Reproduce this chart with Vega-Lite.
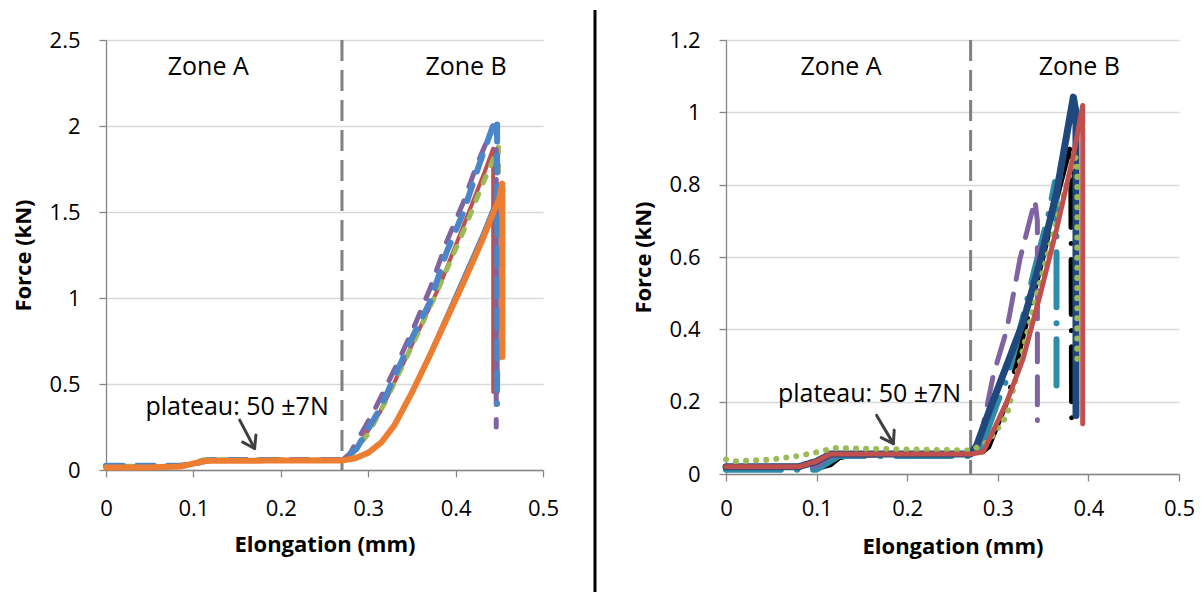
{
  "$schema": "https://vega.github.io/schema/vega-lite/v6.json",
  "padding": {"left": 12, "top": 8, "right": 0, "bottom": 0},
  "background": "white",
  "bounds": "flush",
  "spacing": 52,
  "config": {
    "view": {"stroke": null},
    "font": "Open Sans",
    "axis": {
      "labelFont": "Open Sans", "labelFontSize": 22, "labelColor": "#000000",
      "titleFont": "Open Sans", "titleFontSize": 22, "titleFontWeight": "bold", "titleColor": "#000000",
      "domainColor": "#868686", "domainWidth": 1.3, "tickColor": "#868686", "tickWidth": 1.3, "tickSize": 7,
      "gridColor": "#d9d9d9", "gridWidth": 1.3, "labelFlush": false, "labelOverlap": false
    },
    "axisX": {"grid": false, "labelPadding": 21, "titlePadding": 15},
    "axisY": {"grid": true, "labelPadding": 19, "titlePadding": 14}
  },
  "datasets": {
    "left": [
      {"s":"L1","x":0,"f":0.025},{"s":"L1","x":0.04,"f":0.022},{"s":"L1","x":0.085,"f":0.02},{"s":"L1","x":0.1,"f":0.028},{"s":"L1","x":0.11,"f":0.042},{"s":"L1","x":0.122,"f":0.052},{"s":"L1","x":0.2,"f":0.053},{"s":"L1","x":0.27,"f":0.055},{"s":"L1","x":0.285,"f":0.075},{"s":"L1","x":0.3,"f":0.11},{"s":"L1","x":0.315,"f":0.17},{"s":"L1","x":0.33,"f":0.27},{"s":"L1","x":0.35,"f":0.46},{"s":"L1","x":0.37,"f":0.68},{"s":"L1","x":0.39,"f":0.91},{"s":"L1","x":0.41,"f":1.14},{"s":"L1","x":0.43,"f":1.37},{"s":"L1","x":0.449,"f":1.61},{"s":"L1","x":0.449,"f":0.45},
      {"s":"L2","x":0,"f":0.02},{"s":"L2","x":0.085,"f":0.02},{"s":"L2","x":0.1,"f":0.035},{"s":"L2","x":0.11,"f":0.05},{"s":"L2","x":0.12,"f":0.056},{"s":"L2","x":0.27,"f":0.058},{"s":"L2","x":0.279,"f":0.085},{"s":"L2","x":0.29,"f":0.15},{"s":"L2","x":0.3135,"f":0.337},{"s":"L2","x":0.33,"f":0.51},{"s":"L2","x":0.3516,"f":0.744},{"s":"L2","x":0.382,"f":1.074},{"s":"L2","x":0.409,"f":1.42},{"s":"L2","x":0.4317,"f":1.713},{"s":"L2","x":0.443,"f":1.868},{"s":"L2","x":0.443,"f":0.453},
      {"s":"L3","x":0,"f":0.022},{"s":"L3","x":0.085,"f":0.022},{"s":"L3","x":0.1,"f":0.04},{"s":"L3","x":0.11,"f":0.058},{"s":"L3","x":0.12,"f":0.06},{"s":"L3","x":0.27,"f":0.058},{"s":"L3","x":0.28,"f":0.08},{"s":"L3","x":0.3,"f":0.21},{"s":"L3","x":0.32,"f":0.4},{"s":"L3","x":0.35,"f":0.72},{"s":"L3","x":0.38,"f":1.05},{"s":"L3","x":0.41,"f":1.4},{"s":"L3","x":0.43,"f":1.65},{"s":"L3","x":0.449,"f":1.878},{"s":"L3","x":0.449,"f":0.647},
      {"s":"L4","x":0,"f":0.02},{"s":"L4","x":0.085,"f":0.02},{"s":"L4","x":0.1,"f":0.035},{"s":"L4","x":0.11,"f":0.05},{"s":"L4","x":0.12,"f":0.055},{"s":"L4","x":0.27,"f":0.055},{"s":"L4","x":0.279,"f":0.095},{"s":"L4","x":0.306,"f":0.337},{"s":"L4","x":0.3325,"f":0.609},{"s":"L4","x":0.3516,"f":0.822},{"s":"L4","x":0.3707,"f":1.054},{"s":"L4","x":0.3897,"f":1.326},{"s":"L4","x":0.409,"f":1.558},{"s":"L4","x":0.424,"f":1.77},{"s":"L4","x":0.443,"f":2.0},{"s":"L4","x":0.4465,"f":1.98},{"s":"L4","x":0.4465,"f":0.25},
      {"s":"L5","x":0,"f":0.025},{"s":"L5","x":0.085,"f":0.025},{"s":"L5","x":0.1,"f":0.035},{"s":"L5","x":0.115,"f":0.055},{"s":"L5","x":0.12,"f":0.058},{"s":"L5","x":0.27,"f":0.058},{"s":"L5","x":0.2867,"f":0.124},{"s":"L5","x":0.3135,"f":0.356},{"s":"L5","x":0.3516,"f":0.783},{"s":"L5","x":0.3707,"f":0.977},{"s":"L5","x":0.3897,"f":1.267},{"s":"L5","x":0.409,"f":1.5},{"s":"L5","x":0.428,"f":1.79},{"s":"L5","x":0.4457,"f":2.042},{"s":"L5","x":0.4475,"f":2.02},{"s":"L5","x":0.4475,"f":0.385},
      {"s":"L6","x":0,"f":0.015},{"s":"L6","x":0.05,"f":0.015},{"s":"L6","x":0.085,"f":0.02},{"s":"L6","x":0.1,"f":0.038},{"s":"L6","x":0.115,"f":0.053},{"s":"L6","x":0.2,"f":0.055},{"s":"L6","x":0.27,"f":0.055},{"s":"L6","x":0.285,"f":0.068},{"s":"L6","x":0.3,"f":0.1},{"s":"L6","x":0.315,"f":0.16},{"s":"L6","x":0.33,"f":0.26},{"s":"L6","x":0.35,"f":0.45},{"s":"L6","x":0.37,"f":0.66},{"s":"L6","x":0.39,"f":0.88},{"s":"L6","x":0.41,"f":1.1},{"s":"L6","x":0.43,"f":1.33},{"s":"L6","x":0.45,"f":1.58},{"s":"L6","x":0.4535,"f":1.665},{"s":"L6","x":0.4535,"f":0.657}
    ],
    "right": [
      {"s":"R1","x":0,"f":0.015},{"s":"R1","x":0.1,"f":0.015},{"s":"R1","x":0.115,"f":0.025},{"s":"R1","x":0.125,"f":0.045},{"s":"R1","x":0.135,"f":0.05},{"s":"R1","x":0.27,"f":0.05},{"s":"R1","x":0.28,"f":0.054},{"s":"R1","x":0.29,"f":0.075},{"s":"R1","x":0.31,"f":0.199},{"s":"R1","x":0.3337,"f":0.439},{"s":"R1","x":0.35,"f":0.6},{"s":"R1","x":0.365,"f":0.76},{"s":"R1","x":0.3805,"f":0.91},{"s":"R1","x":0.3815,"f":0.12},
      {"s":"R2","x":0,"f":0.012},{"s":"R2","x":0.1,"f":0.012},{"s":"R2","x":0.115,"f":0.035},{"s":"R2","x":0.125,"f":0.05},{"s":"R2","x":0.27,"f":0.05},{"s":"R2","x":0.28,"f":0.06},{"s":"R2","x":0.284,"f":0.088},{"s":"R2","x":0.3,"f":0.2},{"s":"R2","x":0.3116,"f":0.273},{"s":"R2","x":0.3245,"f":0.4},{"s":"R2","x":0.34,"f":0.56},{"s":"R2","x":0.3557,"f":0.715},{"s":"R2","x":0.363,"f":0.807},{"s":"R2","x":0.3648,"f":0.8},{"s":"R2","x":0.3648,"f":0.245},
      {"s":"R3","x":0,"f":0.02},{"s":"R3","x":0.1,"f":0.022},{"s":"R3","x":0.115,"f":0.05},{"s":"R3","x":0.27,"f":0.055},{"s":"R3","x":0.28,"f":0.088},{"s":"R3","x":0.295,"f":0.273},{"s":"R3","x":0.31,"f":0.4},{"s":"R3","x":0.3245,"f":0.595},{"s":"R3","x":0.341,"f":0.757},{"s":"R3","x":0.3437,"f":0.7},{"s":"R3","x":0.3437,"f":0.148},
      {"s":"R4","x":0,"f":0.02},{"s":"R4","x":0.08,"f":0.02},{"s":"R4","x":0.1,"f":0.035},{"s":"R4","x":0.115,"f":0.055},{"s":"R4","x":0.27,"f":0.055},{"s":"R4","x":0.2767,"f":0.079},{"s":"R4","x":0.2914,"f":0.18},{"s":"R4","x":0.3098,"f":0.3},{"s":"R4","x":0.328,"f":0.42},{"s":"R4","x":0.3466,"f":0.586},{"s":"R4","x":0.365,"f":0.78},{"s":"R4","x":0.3834,"f":1.042},{"s":"R4","x":0.3863,"f":1.0},{"s":"R4","x":0.3863,"f":0.162},
      {"s":"R5","x":0,"f":0.04},{"s":"R5","x":0.01,"f":0.035},{"s":"R5","x":0.05,"f":0.04},{"s":"R5","x":0.08,"f":0.05},{"s":"R5","x":0.1,"f":0.06},{"s":"R5","x":0.12,"f":0.072},{"s":"R5","x":0.15,"f":0.07},{"s":"R5","x":0.2,"f":0.068},{"s":"R5","x":0.27,"f":0.065},{"s":"R5","x":0.29,"f":0.09},{"s":"R5","x":0.31,"f":0.162},{"s":"R5","x":0.328,"f":0.346},{"s":"R5","x":0.3466,"f":0.53},{"s":"R5","x":0.361,"f":0.66},{"s":"R5","x":0.3724,"f":0.77},{"s":"R5","x":0.385,"f":0.876},{"s":"R5","x":0.3877,"f":0.87},{"s":"R5","x":0.3877,"f":0.296},
      {"s":"R6","x":0,"f":0.02},{"s":"R6","x":0.08,"f":0.02},{"s":"R6","x":0.1,"f":0.035},{"s":"R6","x":0.115,"f":0.055},{"s":"R6","x":0.27,"f":0.055},{"s":"R6","x":0.284,"f":0.061},{"s":"R6","x":0.2914,"f":0.1},{"s":"R6","x":0.3098,"f":0.199},{"s":"R6","x":0.328,"f":0.319},{"s":"R6","x":0.3466,"f":0.494},{"s":"R6","x":0.365,"f":0.678},{"s":"R6","x":0.3834,"f":0.881},{"s":"R6","x":0.3937,"f":1.019},{"s":"R6","x":0.3937,"f":0.139}
    ]
  },
  "hconcat": [
    {
      "width": 437,
      "height": 430,
      "data": {"name": "left"},
      "layer": [
        {
          "data": {"values": [{}]},
          "mark": {"type": "rule", "color": "#808080", "strokeWidth": 3, "strokeDash": [21, 9]},
          "encoding": {"x": {"datum": 0.27, "type": "quantitative"}}
        },
        {
          "mark": {"type": "line", "strokeCap": "round", "strokeJoin": "round"},
          "encoding": {
            "x": {"field": "x", "type": "quantitative", "scale": {"domain": [0, 0.5], "nice": false, "zero": false},
                  "axis": {"values": [0, 0.1, 0.2, 0.3, 0.4, 0.5], "format": "~f", "title": "Elongation (mm)", "labelPadding": 21}},
            "y": {"field": "f", "type": "quantitative", "scale": {"domain": [0, 2.5], "nice": false},
                  "axis": {"values": [0, 0.5, 1, 1.5, 2, 2.5], "format": "~f", "title": "Force (kN)"}},
            "color": {"field": "s", "type": "nominal", "legend": null,
                      "scale": {"domain": ["L1","L2","L3","L4","L5","L6","R1","R2","R3","R4","R5","R6"], "range": ["#4F81BD","#C0504D","#9BBB59","#8064A2","#4A86C8","#ED7D31","#000000","#2F8CA8","#8064A2","#1F497D","#9BBB59","#C0504D"]}},
            "strokeDash": {"field": "s", "type": "nominal", "legend": null,
                      "scale": {"domain": ["L1","L2","L3","L4","L5","L6","R1","R2","R3","R4","R5","R6"], "range": [[1,0],[1,0],[7,12],[15,15],[17,14],[1,0],[55,16,0.1,16],[55,16,0.1,16],[28,15],[1,0],[0.1,10],[1,0]]}},
            "strokeWidth": {"field": "s", "type": "nominal", "legend": null,
                      "scale": {"type": "ordinal", "domain": ["L1","L2","L3","L4","L5","L6","R1","R2","R3","R4","R5","R6"], "range": [2.5,4,5,5,6,6,5,6,5,7,6,5]}},
            "order": {"value": null}
          }
        },
        {
          "data": {"values": [{}]},
          "mark": {"type": "text", "font": "Open Sans", "fontSize": 25, "color": "#000000", "align": "center", "baseline": "alphabetic"},
          "encoding": {"x": {"datum": 0.117, "type": "quantitative"}, "y": {"datum": 2.295, "type": "quantitative"}, "text": {"value": "Zone A"}}
        },
        {
          "data": {"values": [{}]},
          "mark": {"type": "text", "font": "Open Sans", "fontSize": 25, "color": "#000000", "align": "center", "baseline": "alphabetic"},
          "encoding": {"x": {"datum": 0.412, "type": "quantitative"}, "y": {"datum": 2.295, "type": "quantitative"}, "text": {"value": "Zone B"}}
        },
        {
          "data": {"values": [{}]},
          "mark": {"type": "text", "font": "Open Sans", "fontSize": 25, "color": "#000000", "align": "center", "baseline": "alphabetic"},
          "encoding": {"x": {"datum": 0.15, "type": "quantitative"}, "y": {"datum": 0.32, "type": "quantitative"}, "text": {"value": "plateau: 50 ±7N"}}
        },
        {
          "data": {"values": [{}]},
          "mark": {"type": "rule", "color": "#404040", "strokeWidth": 3, "strokeCap": "round"},
          "encoding": {"x": {"datum": 0.153, "type": "quantitative"}, "y": {"datum": 0.29, "type": "quantitative"}, "x2": {"datum": 0.17}, "y2": {"datum": 0.125}}
        },
        {
          "data": {"values": [{}]},
          "mark": {"type": "point", "shape": "M -0.5 -0.75 L 0 0 L 0.5 -0.75", "filled": false, "stroke": "#404040", "strokeWidth": 3, "size": 900, "angle": -28, "opacity": 1, "strokeCap": "round", "strokeJoin": "round"},
          "encoding": {"x": {"datum": 0.17, "type": "quantitative"}, "y": {"datum": 0.125, "type": "quantitative"}}
        }
      ]
    },
    {
      "width": 79,
      "height": 434,
      "data": {"values": [{}]},
      "mark": {"type": "rule", "color": "#000000", "strokeWidth": 3},
      "encoding": {
        "x": {"datum": 0, "type": "quantitative", "scale": {"domain": [0, 1]}, "axis": null},
        "y": {"datum": -0.276, "type": "quantitative", "scale": {"domain": [0, 1]}, "axis": null},
        "y2": {"datum": 1.069}
      }
    },
    {
      "width": 453,
      "height": 434,
      "data": {"name": "right"},
      "layer": [
        {
          "data": {"values": [{}]},
          "mark": {"type": "rule", "color": "#808080", "strokeWidth": 3, "strokeDash": [21, 9]},
          "encoding": {"x": {"datum": 0.27, "type": "quantitative"}}
        },
        {
          "mark": {"type": "line", "strokeCap": "round", "strokeJoin": "round"},
          "encoding": {
            "x": {"field": "x", "type": "quantitative", "scale": {"domain": [0, 0.5], "nice": false, "zero": false},
                  "axis": {"values": [0, 0.1, 0.2, 0.3, 0.4, 0.5], "format": "~f", "title": "Elongation (mm)", "labelPadding": 17, "titlePadding": 17}},
            "y": {"field": "f", "type": "quantitative", "scale": {"domain": [0, 1.2], "nice": false},
                  "axis": {"values": [0, 0.2, 0.4, 0.6, 0.8, 1, 1.2], "format": "~f", "title": "Force (kN)"}},
            "color": {"field": "s", "type": "nominal", "legend": null,
                      "scale": {"domain": ["L1","L2","L3","L4","L5","L6","R1","R2","R3","R4","R5","R6"], "range": ["#4F81BD","#C0504D","#9BBB59","#8064A2","#4A86C8","#ED7D31","#000000","#2F8CA8","#8064A2","#1F497D","#9BBB59","#C0504D"]}},
            "strokeDash": {"field": "s", "type": "nominal", "legend": null,
                      "scale": {"domain": ["L1","L2","L3","L4","L5","L6","R1","R2","R3","R4","R5","R6"], "range": [[1,0],[1,0],[7,12],[15,15],[17,14],[1,0],[55,16,0.1,16],[55,16,0.1,16],[28,15],[1,0],[0.1,10],[1,0]]}},
            "strokeWidth": {"field": "s", "type": "nominal", "legend": null,
                      "scale": {"type": "ordinal", "domain": ["L1","L2","L3","L4","L5","L6","R1","R2","R3","R4","R5","R6"], "range": [2.5,4,5,5,6,6,5,6,5,7,6,5]}},
            "order": {"value": null}
          }
        },
        {
          "data": {"values": [{}]},
          "mark": {"type": "text", "font": "Open Sans", "fontSize": 25, "color": "#000000", "align": "center", "baseline": "alphabetic"},
          "encoding": {"x": {"datum": 0.127, "type": "quantitative"}, "y": {"datum": 1.103, "type": "quantitative"}, "text": {"value": "Zone A"}}
        },
        {
          "data": {"values": [{}]},
          "mark": {"type": "text", "font": "Open Sans", "fontSize": 25, "color": "#000000", "align": "center", "baseline": "alphabetic"},
          "encoding": {"x": {"datum": 0.39, "type": "quantitative"}, "y": {"datum": 1.103, "type": "quantitative"}, "text": {"value": "Zone B"}}
        },
        {
          "data": {"values": [{}]},
          "mark": {"type": "text", "font": "Open Sans", "fontSize": 25, "color": "#000000", "align": "center", "baseline": "alphabetic"},
          "encoding": {"x": {"datum": 0.1584, "type": "quantitative"}, "y": {"datum": 0.199, "type": "quantitative"}, "text": {"value": "plateau: 50 ±7N"}}
        },
        {
          "data": {"values": [{}]},
          "mark": {"type": "rule", "color": "#404040", "strokeWidth": 3, "strokeCap": "round"},
          "encoding": {"x": {"datum": 0.1663, "type": "quantitative"}, "y": {"datum": 0.162, "type": "quantitative"}, "x2": {"datum": 0.1847}, "y2": {"datum": 0.084}}
        },
        {
          "data": {"values": [{}]},
          "mark": {"type": "point", "shape": "M -0.5 -0.75 L 0 0 L 0.5 -0.75", "filled": false, "stroke": "#404040", "strokeWidth": 3, "size": 900, "angle": -30, "opacity": 1, "strokeCap": "round", "strokeJoin": "round"},
          "encoding": {"x": {"datum": 0.1847, "type": "quantitative"}, "y": {"datum": 0.084, "type": "quantitative"}}
        }
      ]
    }
  ]
}
